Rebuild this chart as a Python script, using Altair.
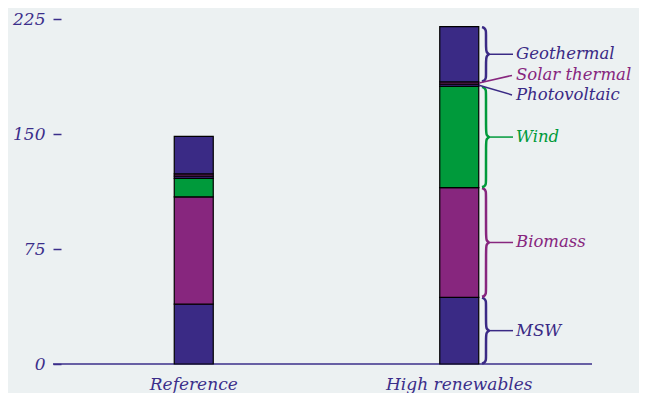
import altair as alt
import pandas as pd

# ---- data ----
categories = ["Reference", "High renewables"]
sources = ["MSW", "Biomass", "Wind", "Photovoltaic", "Solar thermal", "Geothermal"]
reference_vals = [39, 70, 12, 1.5, 1.5, 24.5]
high_vals = [43.5, 71.5, 66, 1.5, 1.5, 36]
colors = ["#3a2a85", "#87267e", "#009a3b", "#3a2a85", "#87267e", "#3a2a85"]
y_ticks = [0, 75, 150, 225]

braced = ["MSW", "Biomass", "Wind", "Geothermal"]

# ---- layout constants (pixels) ----
W, H = 531, 345
YMAX = 225
K = YMAX / H  # data units per pixel
INK = "#3b2e8a"
FONT = "DejaVu Serif"

rows = []
for cat, vals in zip(categories, [reference_vals, high_vals]):
    for i, (s, v) in enumerate(zip(sources, vals)):
        rows.append({"category": cat, "source": s, "value": v, "idx": i})
bars_df = pd.DataFrame(rows)

# segment bounds for the annotated bar
bounds = {}
acc = 0.0
for s, v in zip(sources, high_vals):
    bounds[s] = (acc, acc + v)
    acc += v

BAR_EDGE = 418
BRACE_X = 421
TIP_X = 428
LEAD_END = 452
LABEL_X = 455
LABEL_SHIFT = {"Solar thermal": -7.6, "Photovoltaic": 9.6}

brace_rows = []
lead_rows = []
label_rows = []
for s in sources:
    lo, hi = bounds[s]
    mid = (lo + hi) / 2
    if s in braced:
        h = (hi - lo) / K
        shape = [(0, 0.5), (2.5, 1.2), (4, 4), (4, 6), (4, h / 2 - 6), (4.3, h / 2 - 2),
                 (7, h / 2), (7, h / 2), (4.3, h / 2 + 2), (4, h / 2 + 6), (4, h - 6),
                 (4, h - 4), (2.5, h - 1.2), (0, h - 0.5)]
        for j, (dx, dy) in enumerate(shape):
            brace_rows.append({"source": s, "i": j, "px": BRACE_X + dx, "y": hi - dy * K})
        lead_rows.append({"source": s, "x0": TIP_X, "x1": LEAD_END, "y0": mid, "y1": mid})
        label_rows.append({"source": s, "px": LABEL_X, "y": mid})
    else:
        ly = mid - LABEL_SHIFT[s] * K
        lead_rows.append({"source": s, "x0": BAR_EDGE, "x1": LEAD_END - 1, "y0": mid, "y1": ly})
        label_rows.append({"source": s, "px": LABEL_X, "y": ly})

brace_df = pd.DataFrame(brace_rows)
lead_df = pd.DataFrame(lead_rows)
label_df = pd.DataFrame(label_rows)

color_enc = alt.Color("source:N", scale=alt.Scale(domain=sources, range=colors), legend=None)
y_scale = alt.Scale(domain=[0, YMAX], nice=False, zero=True)
y_axis = alt.Axis(
    values=y_ticks, title=None, domain=False, grid=False, tickSize=8, tickWidth=1.5,
    tickColor=INK, labelPadding=8, labelFont=FONT, labelFontStyle="italic",
    labelFontSize=17, labelColor=INK,
)

baseline = alt.Chart(pd.DataFrame({"v": [0]})).mark_rule(color=INK, strokeWidth=1.5).encode(
    x=alt.value(-8), x2=alt.value(W), y=alt.Y("v:Q", scale=y_scale, axis=y_axis)
)

bars = alt.Chart(bars_df).mark_bar(size=39, stroke="black", strokeWidth=1.2).encode(
    x=alt.X(
        "category:N",
        sort=categories,
        scale=alt.Scale(paddingInner=0, paddingOuter=0),
        axis=alt.Axis(
            title=None, labelAngle=0, domain=False, ticks=False, labelPadding=12,
            labelFont=FONT, labelFontStyle="italic", labelFontSize=17, labelColor=INK,
            labelBaseline="top",
        ),
    ),
    y=alt.Y("value:Q", stack="zero", scale=y_scale, axis=y_axis),
    color=color_enc,
    order=alt.Order("idx:Q"),
)

braces = alt.Chart(brace_df).mark_line(interpolate="basis", strokeWidth=2.5).encode(
    x=alt.X("px:Q", scale=None, axis=None),
    y=alt.Y("y:Q", scale=y_scale, axis=y_axis),
    color=color_enc,
    detail="source:N",
    order=alt.Order("i:Q"),
)

leaders = alt.Chart(lead_df).mark_rule(strokeWidth=1.5).encode(
    x=alt.X("x0:Q", scale=None, axis=None),
    x2="x1:Q",
    y=alt.Y("y0:Q", scale=y_scale, axis=y_axis),
    y2="y1:Q",
    color=color_enc,
)

labels = alt.Chart(label_df).mark_text(
    align="left", baseline="middle", font=FONT, fontStyle="italic", fontSize=16.5
).encode(
    x=alt.X("px:Q", scale=None, axis=None),
    y=alt.Y("y:Q", scale=y_scale, axis=y_axis),
    text="source:N",
    color=color_enc,
)

chart = (
    alt.layer(baseline, bars, braces, leaders, labels)
    .resolve_scale(x="independent")
    .properties(
        width=W,
        height=H,
        padding={"left": 53, "top": 11, "right": 47, "bottom": 29},
        autosize=alt.AutoSizeParams(type="none"),
        background="#ecf1f2",
    )
    .configure_view(stroke=None)
)

chart.save("out.html", embed_options={"renderer": "svg", "actions": False})
